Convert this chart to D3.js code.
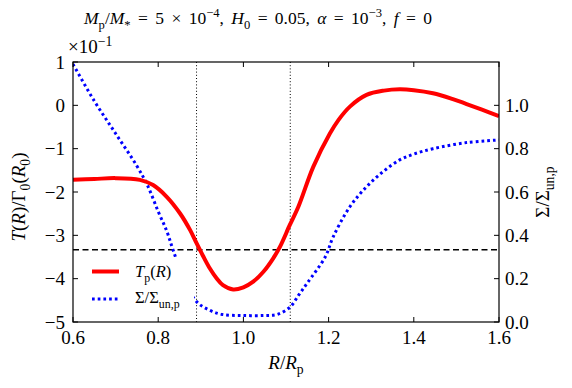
<!DOCTYPE html>
<html><head><meta charset="utf-8">
<script src="https://cdn.jsdelivr.net/npm/d3@7"></script>
<style>body{margin:0;background:#fff}svg{display:block}</style>
</head><body><svg id="c" width="572" height="388"></svg>
<script>
// Data
const R_T = [0.60,0.65,0.70,0.757,0.788,0.82,0.851,0.875,0.89,0.905,0.921,0.937,0.952,0.976,1.00,1.023,1.047,1.07,1.086,1.109,1.129,1.164,1.203,1.223,1.25,1.289,1.33,1.367,1.40,1.445,1.49,1.524,1.56,1.60];
const T_vals = [-1.72,-1.70,-1.68,-1.72,-1.84,-2.11,-2.49,-2.88,-3.18,-3.47,-3.76,-3.99,-4.15,-4.25,-4.20,-4.07,-3.84,-3.53,-3.26,-2.76,-2.34,-1.42,-0.65,-0.34,-0.03,0.24,0.34,0.37,0.35,0.28,0.15,0.03,-0.10,-0.25];
const R_S = [0.60,0.65,0.70,0.75,0.775,0.80,0.82,0.835,0.86,0.89,0.92,0.95,1.00,1.05,1.08,1.11,1.13,1.15,1.192,1.211,1.25,1.289,1.328,1.367,1.40,1.445,1.524,1.60];
const S_vals = [1.19,1.02,0.87,0.72,0.63,0.51,0.42,0.332,0.20,0.094,0.055,0.035,0.03,0.03,0.035,0.07,0.125,0.18,0.30,0.394,0.532,0.624,0.694,0.748,0.775,0.80,0.828,0.84];
const xTicks = [0.6,0.8,1.0,1.2,1.4,1.6];
const xTickLabels = ["0.6","0.8","1.0","1.2","1.4","1.6"];
const yLTicks = [1,0,-1,-2,-3,-4,-5];
const yLTickLabels = ["1","0","\u22121","\u22122","\u22123","\u22124","\u22125"];
const yRTicks = [0,0.2,0.4,0.6,0.8,1.0];
const yRTickLabels = ["0.0","0.2","0.4","0.6","0.8","1.0"];
const vLines = [0.89, 1.11];
const hLineRight = 1/3;

const FONT = "'Liberation Serif'";
const svg = d3.select("#c");
const L=73, Rr=499, T=62, B=322;
const x = d3.scaleLinear().domain([0.6,1.6]).range([L,Rr]);
const yL = d3.scaleLinear().domain([-5,1]).range([B,T]);
const yR = d3.scaleLinear().domain([0,1.2]).range([B,T]);

svg.append("defs").append("clipPath").attr("id","clip").append("rect").attr("x",L).attr("y",T).attr("width",Rr-L).attr("height",B-T);
const g = svg.append("g").attr("clip-path","url(#clip)");

vLines.forEach(v=>g.append("line").attr("x1",x(v)).attr("x2",x(v)).attr("y1",T).attr("y2",B)
  .attr("stroke","#000").attr("stroke-width",1).attr("stroke-dasharray","1,2.2"));
g.append("line").attr("x1",L).attr("x2",Rr).attr("y1",yR(hLineRight)).attr("y2",yR(hLineRight))
  .attr("stroke","#000").attr("stroke-width",1.5).attr("stroke-dasharray","6,3.5");

const lineS = d3.line().x((d,i)=>x(R_S[i])).y(d=>yR(d)).curve(d3.curveCatmullRom.alpha(0.5));
g.append("path").attr("d",lineS(S_vals)).attr("fill","none").attr("stroke","#0000ff").attr("stroke-width",3).attr("stroke-dasharray","2.7,3");
const lineT = d3.line().x((d,i)=>x(R_T[i])).y(d=>yL(d)).curve(d3.curveCatmullRom.alpha(0.5));
g.append("path").attr("d",lineT(T_vals)).attr("fill","none").attr("stroke","#ff0000").attr("stroke-width",4);

svg.append("rect").attr("x",L).attr("y",T).attr("width",Rr-L).attr("height",B-T).attr("fill","none").attr("stroke","#000").attr("stroke-width",1.2);

function txt(xp,yp,fs){ return svg.append("text").attr("x",xp).attr("y",yp).attr("font-size",fs).style("font-family",FONT).attr("fill","#000"); }

const tl=5, fsT=19;
xTicks.forEach((v,i)=>{
  svg.append("line").attr("x1",x(v)).attr("x2",x(v)).attr("y1",B).attr("y2",B-tl).attr("stroke","#000");
  svg.append("line").attr("x1",x(v)).attr("x2",x(v)).attr("y1",T).attr("y2",T+tl).attr("stroke","#000");
  txt(x(v),344,fsT).attr("text-anchor","middle").text(xTickLabels[i]);
});
yLTicks.forEach((v,i)=>{
  svg.append("line").attr("x1",L).attr("x2",L+tl).attr("y1",yL(v)).attr("y2",yL(v)).attr("stroke","#000");
  txt(65,yL(v)+6.5,fsT).attr("text-anchor","end").text(yLTickLabels[i]);
});
yRTicks.forEach((v,i)=>{
  svg.append("line").attr("x1",Rr).attr("x2",Rr-tl).attr("y1",yR(v)).attr("y2",yR(v)).attr("stroke","#000");
  txt(505,yR(v)+6.5,fsT).attr("text-anchor","start").text(yRTickLabels[i]);
});

function math(sel, parts, fs, supK){
  let shift=0; const sk = supK||0.42;
  parts.forEach(p=>{
    const t = sel.append("tspan").text(p.t);
    let target = p.sub? 0.28*fs : p.sup? -sk*fs : 0;
    if(target!==shift){ t.attr("dy", target-shift); shift=target; }
    if(p.sub||p.sup) t.attr("font-size", fs*0.72);
    if(p.i) t.attr("font-style","italic");
  });
}

const title = txt(258,24,17.5).attr("text-anchor","middle").attr("word-spacing",3);
math(title,[{t:"M",i:1},{t:"p",sub:1},{t:"/"},{t:"M",i:1},{t:"*",sub:1},{t:" = 5 \u00d7 10"},{t:"\u22124",sup:1},{t:", "},{t:"H",i:1},{t:"0",sub:1},{t:" = 0.05, "},{t:"\u03b1",i:1},{t:" = 10"},{t:"\u22123",sup:1},{t:", "},{t:"f",i:1},{t:" = 0"}],17.5);

const mult = txt(68,53,fsT);
math(mult,[{t:"\u00d710"},{t:"\u22121",sup:1}],fsT,0.36);

const xl = txt(286,369,19).attr("text-anchor","middle");
math(xl,[{t:"R",i:1},{t:"/"},{t:"R",i:1},{t:"p",sub:1}],19);

const ylab = txt(0,0,19).attr("transform","translate(25,197) rotate(-90)").attr("text-anchor","middle");
math(ylab,[{t:"T",i:1},{t:"("},{t:"R",i:1},{t:")/\u0393"},{t:"0",sub:1},{t:"("},{t:"R",i:1},{t:"0",sub:1},{t:")"}],19);

const yrl = txt(0,0,19).attr("transform","translate(549,192) rotate(-90)").attr("text-anchor","middle");
math(yrl,[{t:"\u03a3/\u03a3"},{t:"un,p",sub:1}],19);

const lg = svg.append("g");
lg.append("rect").attr("x",82).attr("y",257).attr("width",112).attr("height",55).attr("fill","#fff");
lg.append("line").attr("x1",92).attr("x2",119).attr("y1",271.5).attr("y2",271.5).attr("stroke","#ff0000").attr("stroke-width",4);
lg.append("line").attr("x1",92).attr("x2",119).attr("y1",299).attr("y2",299).attr("stroke","#0000ff").attr("stroke-width",3).attr("stroke-dasharray","2.7,3");
const l1 = txt(135,277,16.5);
math(l1,[{t:"T",i:1},{t:"p",sub:1},{t:"("},{t:"R",i:1},{t:")"}],16.5);
const l2 = txt(135,303,16.5);
math(l2,[{t:"\u03a3/\u03a3"},{t:"un,p",sub:1}],16.5);
</script></body></html>
